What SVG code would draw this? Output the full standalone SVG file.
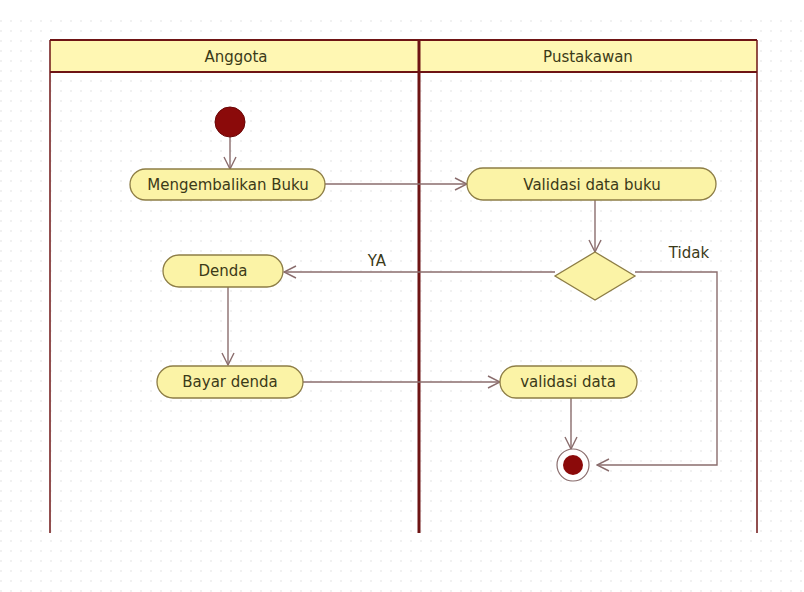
<svg xmlns="http://www.w3.org/2000/svg" width="804" height="592" viewBox="0 0 804 592">
<style>
.lbl{font-family:"DejaVu Sans",Verdana,sans-serif;font-size:15px;fill:#3b3a18;text-anchor:middle}
.act{fill:#fbf3a6;stroke:#8d7d45;stroke-width:1.3}
.edge{fill:none;stroke:#8a6d6d;stroke-width:1.4}
.lane{stroke:#6e1414;fill:none}
</style>
<defs>
<marker id="arr" viewBox="0 0 14 14" refX="13" refY="7" markerWidth="14" markerHeight="14" markerUnits="userSpaceOnUse" orient="auto">
<path d="M1,1 L13,7 L1,13" fill="none" stroke="#8a6d6d" stroke-width="1.4"/>
</marker>
<pattern id="grid" width="10" height="10" patternUnits="userSpaceOnUse">
<rect x="0" y="0" width="2" height="2" fill="#f1f1f1"/>
</pattern>
</defs>
<rect width="804" height="592" fill="#ffffff"/>
<rect x="0" y="20" width="804" height="572" fill="url(#grid)"/>
<g id="swimlanes">
<rect x="50" y="40" width="707" height="32" fill="#fff7b3"/>
<line class="lane" x1="50" y1="40" x2="757" y2="40" stroke-width="2"/>
<line class="lane" x1="50" y1="72" x2="757" y2="72" stroke-width="2"/>
<line class="lane" x1="50" y1="40" x2="50" y2="533" stroke-width="1.5"/>
<line class="lane" x1="757" y1="40" x2="757" y2="533" stroke-width="1.5"/>
<line class="lane" x1="419" y1="40" x2="419" y2="533" stroke-width="3" stroke="#7a1010"/>
<text class="lbl" x="236" y="62">Anggota</text>
<text class="lbl" x="588" y="62">Pustakawan</text>
</g>
<g id="edges">
<line class="edge" x1="230" y1="137" x2="230" y2="169" marker-end="url(#arr)"/>
<line class="edge" x1="325" y1="184" x2="467" y2="184" marker-end="url(#arr)"/>
<line class="edge" x1="595" y1="200" x2="595" y2="252" marker-end="url(#arr)"/>
<line class="edge" x1="555" y1="272" x2="284" y2="272" marker-end="url(#arr)"/>
<polyline class="edge" points="635,272 717,272 717,465 597,465" marker-end="url(#arr)"/>
<line class="edge" x1="228" y1="287" x2="228" y2="365" marker-end="url(#arr)"/>
<line class="edge" x1="303" y1="382" x2="500" y2="382" marker-end="url(#arr)"/>
<line class="edge" x1="571" y1="398" x2="571" y2="449" marker-end="url(#arr)"/>
<text class="lbl" x="377" y="266">YA</text>
<text class="lbl" x="689" y="258">Tidak</text>
</g>
<g id="start"><circle cx="230" cy="122" r="15" fill="#8b0a0a" stroke="#6a0505"/></g>
<g id="mengembalikan"><rect class="act" x="130" y="169" width="195" height="31" rx="15.5"/><text class="lbl" x="228" y="190">Mengembalikan Buku</text></g>
<g id="validasi_buku"><rect class="act" x="467" y="168" width="249" height="32" rx="16"/><text class="lbl" x="592" y="190">Validasi data buku</text></g>
<g id="decision"><polygon points="595,252 635,276 595,300 555,276" fill="#fbf3a6" stroke="#8d7d45" stroke-width="1.3"/></g>
<g id="denda"><rect class="act" x="163" y="255" width="120" height="32" rx="16"/><text class="lbl" x="223" y="276">Denda</text></g>
<g id="bayar"><rect class="act" x="157" y="366" width="146" height="32" rx="16"/><text class="lbl" x="230" y="387">Bayar denda</text></g>
<g id="validasi_data"><rect class="act" x="500" y="366" width="137" height="32" rx="16"/><text class="lbl" x="568" y="387">validasi data</text></g>
<g id="end"><circle cx="573" cy="465" r="16" fill="#ffffff" stroke="#8a6d6d" stroke-width="1.2"/><circle cx="573" cy="465" r="10" fill="#8b0a0a"/></g>
</svg>
